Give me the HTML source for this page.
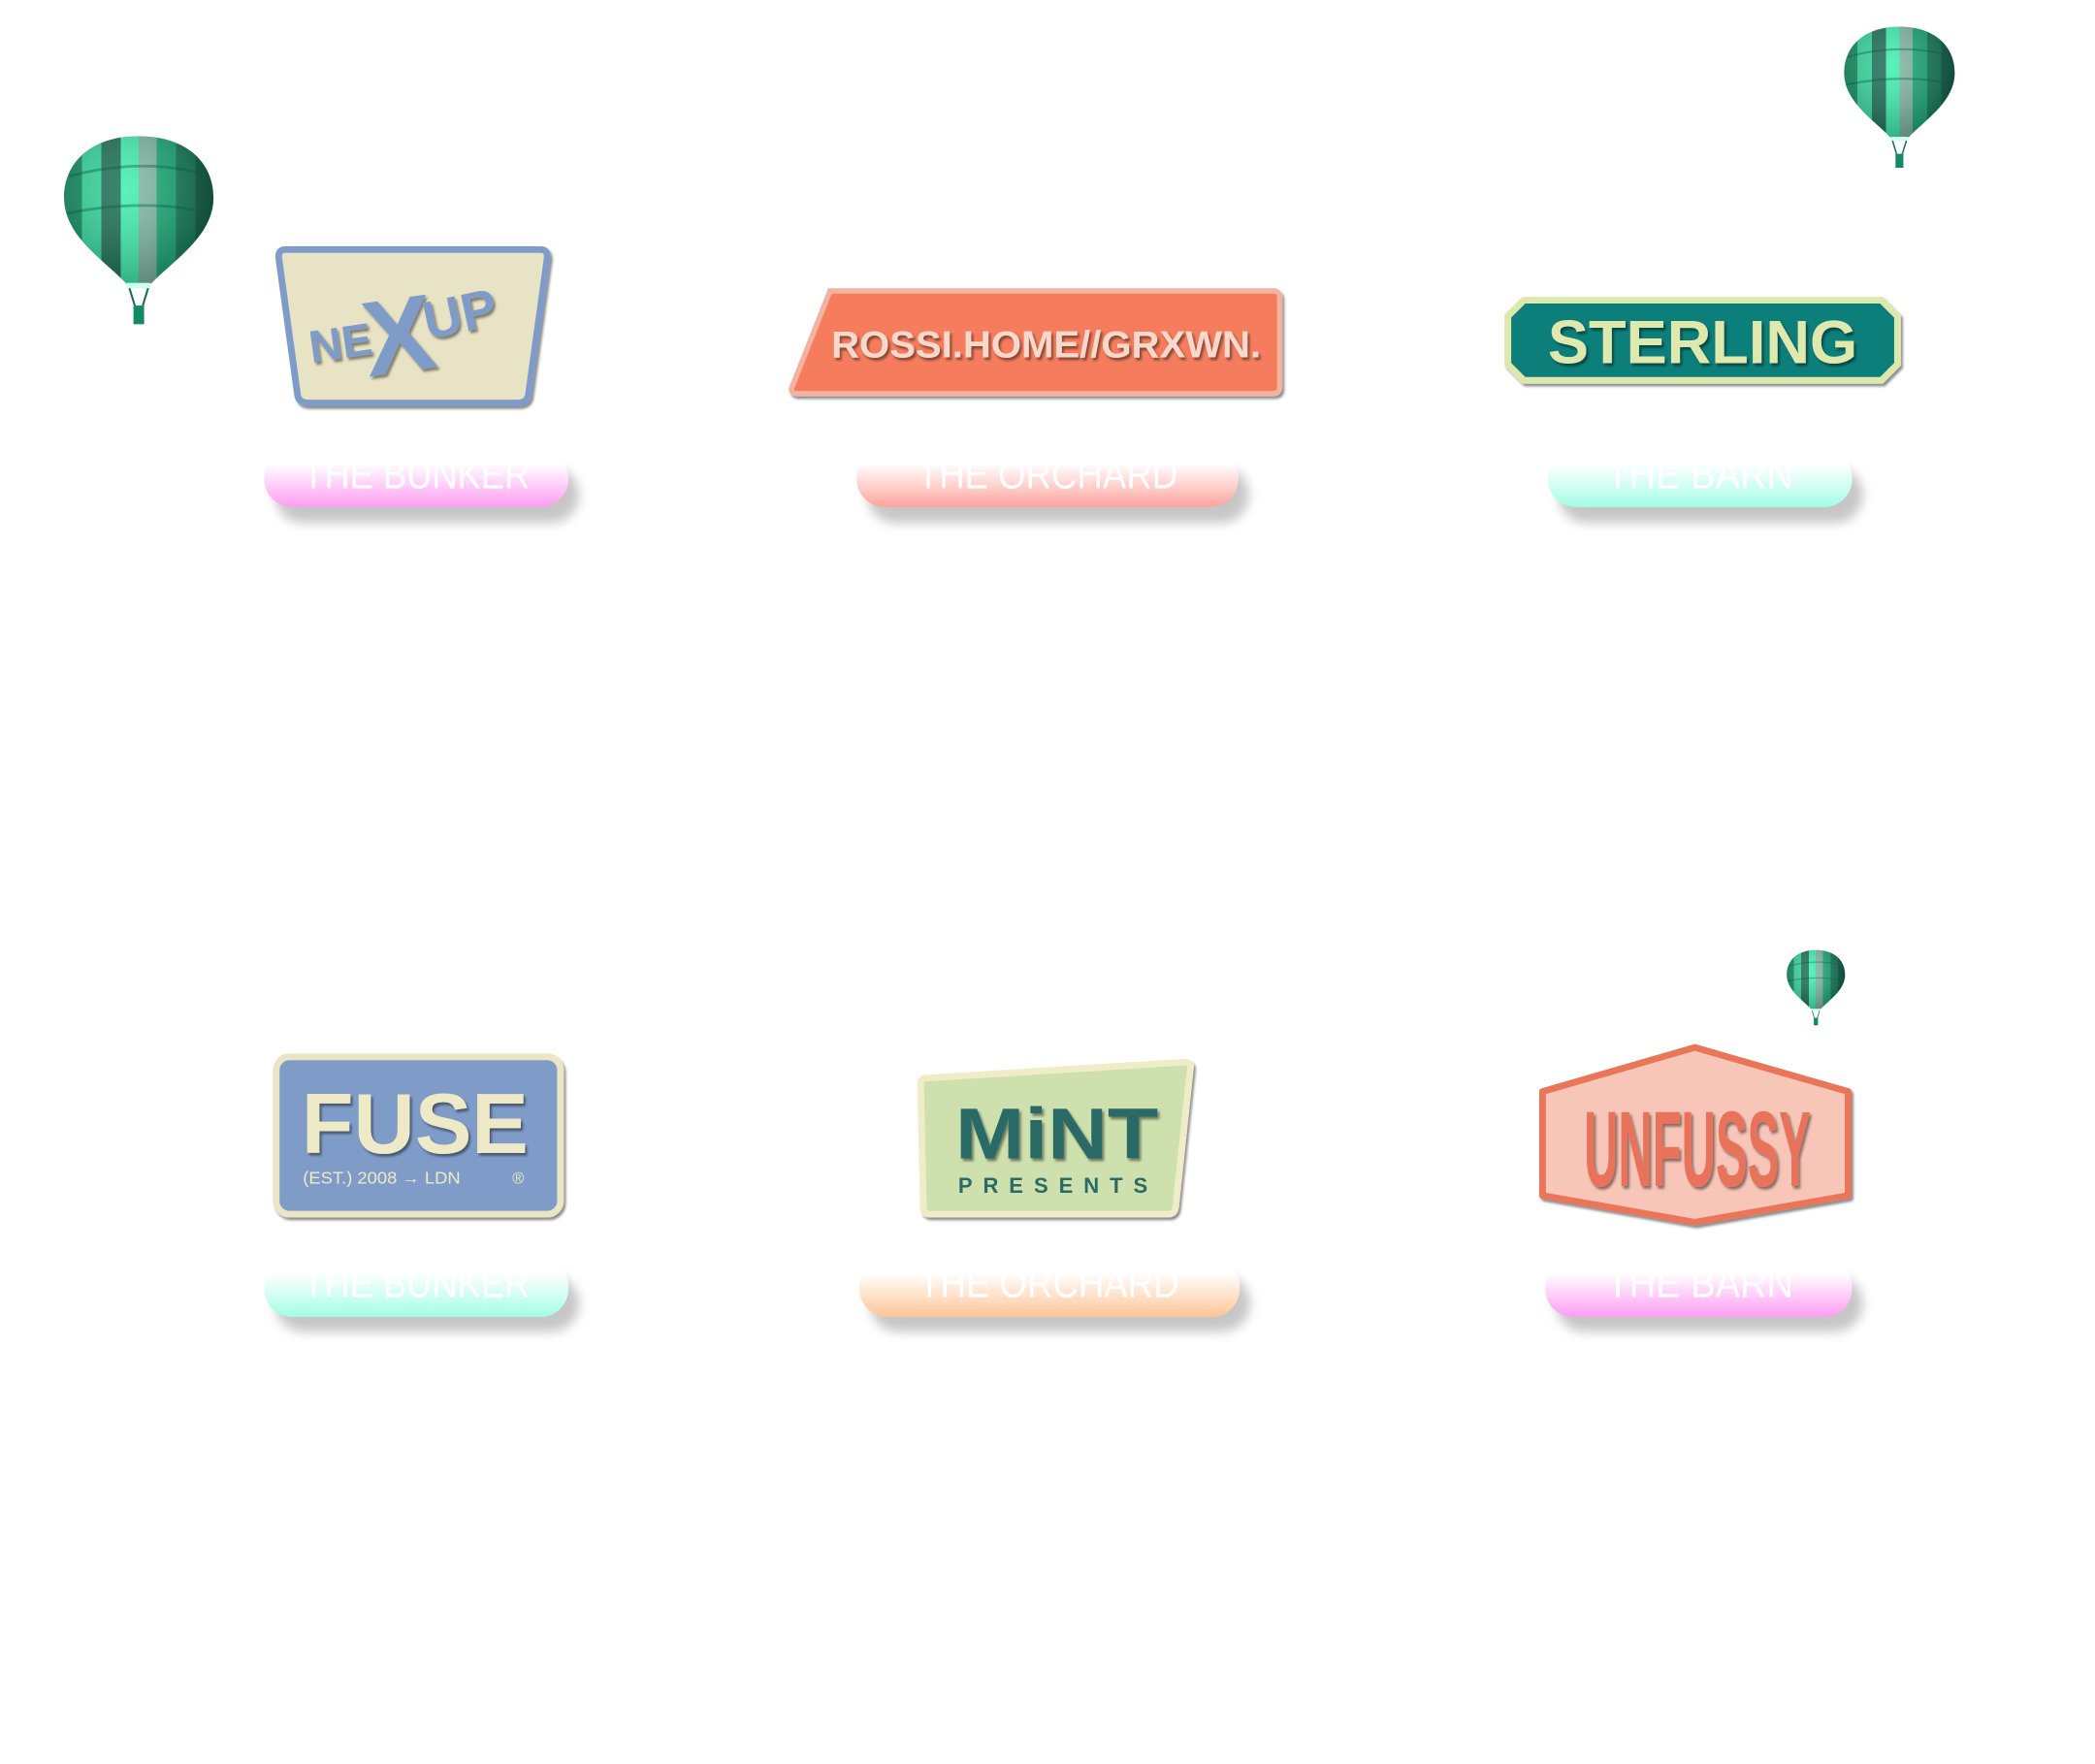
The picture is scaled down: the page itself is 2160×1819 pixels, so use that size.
<!DOCTYPE html>
<html><head><meta charset="utf-8"><style>
html,body{margin:0;padding:0;background:#fff;}
svg{display:block;}
</style></head><body>
<svg width="2160" height="1819" viewBox="0 0 1570 1322" preserveAspectRatio="none" xmlns="http://www.w3.org/2000/svg" font-family="Liberation Sans, sans-serif">
<defs>
  <linearGradient id="stripes" x1="0" x2="1" y1="0" y2="0">
    <stop offset="0" stop-color="#0c8a5e"/><stop offset="0.12" stop-color="#0c8a5e"/>
    <stop offset="0.12" stop-color="#2fd49a"/><stop offset="0.25" stop-color="#2fd49a"/>
    <stop offset="0.25" stop-color="#1a6e55"/><stop offset="0.38" stop-color="#1a6e55"/>
    <stop offset="0.38" stop-color="#3ef0b0"/><stop offset="0.5" stop-color="#3ef0b0"/>
    <stop offset="0.5" stop-color="#7fb8a4"/><stop offset="0.62" stop-color="#7fb8a4"/>
    <stop offset="0.62" stop-color="#17a876"/><stop offset="0.75" stop-color="#17a876"/>
    <stop offset="0.75" stop-color="#0e7a55"/><stop offset="0.88" stop-color="#0e7a55"/>
    <stop offset="0.88" stop-color="#0a5e44"/><stop offset="1" stop-color="#0a5e44"/>
  </linearGradient>
  <radialGradient id="shade" cx="0.4" cy="0.35" r="0.7">
    <stop offset="0" stop-color="#fff" stop-opacity="0.15"/>
    <stop offset="1" stop-color="#000" stop-opacity="0.3"/>
  </radialGradient>
  <g id="balloon">
    <path d="M56 0 C92 0 112 20 112 46 C112 76 80 94 64 112 L48 112 C32 94 0 76 0 46 C0 20 20 0 56 0 Z" fill="url(#stripes)"/>
    <path d="M56 0 C92 0 112 20 112 46 C112 76 80 94 64 112 L48 112 C32 94 0 76 0 46 C0 20 20 0 56 0 Z" fill="url(#shade)"/>
    <path d="M4 30 C40 20 80 20 108 30" stroke="#0a5a40" stroke-width="2" fill="none" opacity="0.4"/>
    <path d="M2 58 C40 50 80 50 110 58" stroke="#0a5a40" stroke-width="2" fill="none" opacity="0.4"/>
    <rect x="47" y="110" width="18" height="4" fill="#cfe"/>
    <path d="M49 114 L53 127 M63 114 L59 127" stroke="#1a6e55" stroke-width="1.5"/>
    <rect x="52" y="127" width="8" height="14" fill="#138a66"/>
  </g>
  <filter id="sh" x="-20%" y="-30%" width="140%" height="180%">
    <feGaussianBlur stdDeviation="4"/>
  </filter>
  <filter id="ds" x="-10%" y="-10%" width="130%" height="140%">
    <feDropShadow dx="1.5" dy="2" stdDeviation="1" flood-color="#000" flood-opacity="0.45"/>
  </filter>
  <linearGradient id="gPink" x1="0" y1="0" x2="0" y2="1"><stop offset="0.25" stop-color="#fff"/><stop offset="1" stop-color="#ff9cf2"/></linearGradient>
  <linearGradient id="gSalmon" x1="0" y1="0" x2="0" y2="1"><stop offset="0.25" stop-color="#fff"/><stop offset="1" stop-color="#ffa39c"/></linearGradient>
  <linearGradient id="gMint" x1="0" y1="0" x2="0" y2="1"><stop offset="0.25" stop-color="#fff"/><stop offset="1" stop-color="#a3fde6"/></linearGradient>
  <linearGradient id="gPeach" x1="0" y1="0" x2="0" y2="1"><stop offset="0.25" stop-color="#fff"/><stop offset="1" stop-color="#ffc596"/></linearGradient>
</defs>

<use href="#balloon" transform="translate(48,102)"/>
<use href="#balloon" transform="translate(1382,20) scale(0.74,0.75)"/>
<use href="#balloon" transform="translate(1339,712) scale(0.39,0.4)"/>

<g font-family="Liberation Sans Narrow, Liberation Sans, sans-serif" font-size="30" fill="#fff" text-anchor="middle">
  <rect x="206" y="350" width="228" height="42" rx="21" fill="#999" opacity="0.55" filter="url(#sh)"/>
  <rect x="198" y="337" width="228" height="43" rx="21" fill="url(#gPink)"/>
  <text x="312" y="366" textLength="170" lengthAdjust="spacingAndGlyphs">THE BUNKER</text>

  <rect x="650" y="350" width="286" height="42" rx="21" fill="#999" opacity="0.55" filter="url(#sh)"/>
  <rect x="642" y="337" width="286" height="43" rx="21" fill="url(#gSalmon)"/>
  <text x="785" y="366" textLength="195" lengthAdjust="spacingAndGlyphs">THE ORCHARD</text>

  <rect x="1168" y="350" width="228" height="42" rx="21" fill="#999" opacity="0.55" filter="url(#sh)"/>
  <rect x="1160" y="337" width="228" height="43" rx="21" fill="url(#gMint)"/>
  <text x="1274" y="366" textLength="140" lengthAdjust="spacingAndGlyphs">THE BARN</text>

  <rect x="206" y="956" width="228" height="42" rx="21" fill="#999" opacity="0.55" filter="url(#sh)"/>
  <rect x="198" y="943" width="228" height="44" rx="21" fill="url(#gMint)"/>
  <text x="312" y="972" textLength="170" lengthAdjust="spacingAndGlyphs">THE BUNKER</text>

  <rect x="652" y="956" width="285" height="42" rx="21" fill="#999" opacity="0.55" filter="url(#sh)"/>
  <rect x="644" y="943" width="285" height="44" rx="21" fill="url(#gPeach)"/>
  <text x="786" y="972" textLength="195" lengthAdjust="spacingAndGlyphs">THE ORCHARD</text>

  <rect x="1166" y="956" width="230" height="42" rx="21" fill="#999" opacity="0.55" filter="url(#sh)"/>
  <rect x="1158" y="943" width="230" height="44" rx="21" fill="url(#gPink)"/>
  <text x="1274" y="972" textLength="140" lengthAdjust="spacingAndGlyphs">THE BARN</text>
</g>

<path d="M214 187 L405 187 Q411 187 410 194 L396 296 Q395 302 388 302 L231 302 Q224 302 223 296 L209 194 Q208 187 214 187 Z" fill="#e8e3c4" stroke="#7f9cc8" stroke-width="5" filter="url(#ds)"/>
<g fill="#7f9cc8" font-weight="bold" filter="url(#ds)">
  <text x="232" y="268" font-size="34" transform="rotate(-8 260 260)">NE</text>
  <text x="272" y="278" font-size="80" transform="rotate(-8 305 250)">X</text>
  <text x="318" y="248" font-size="40" transform="rotate(-12 350 240)">UP</text>
</g>

<path d="M622 218 L954 218 Q959 218 959 223 L959 290 Q959 295 954 295 L598 295 Q591 295 594 289 Z" fill="#f57d5d" stroke="#f3b3a0" stroke-width="4" filter="url(#ds)"/>
<text x="784" y="268" font-size="28" font-weight="bold" fill="#f9d8cc" text-anchor="middle" textLength="322" lengthAdjust="spacingAndGlyphs" filter="url(#ds)">ROSSI.HOME//GRXWN.</text>

<path d="M1142 225 L1410 225 L1422 237 L1422 273 L1410 285 L1142 285 L1130 273 L1130 237 Z" fill="#0b7f7a" stroke="#dde8ad" stroke-width="5" filter="url(#ds)"/>
<text x="1276" y="272" font-size="46" font-weight="bold" fill="#dfe9ae" text-anchor="middle" textLength="232" lengthAdjust="spacingAndGlyphs" filter="url(#ds)">STERLING</text>

<rect x="207" y="792" width="213" height="118" rx="10" fill="#7f9cc8" stroke="#e9e5c5" stroke-width="5" filter="url(#ds)"/>
<text x="226" y="864" font-size="64" font-weight="bold" fill="#eeeac7" textLength="170" lengthAdjust="spacingAndGlyphs" filter="url(#ds)">FUSE</text>
<text x="227" y="887" font-size="13" fill="#eeeac7" textLength="118" lengthAdjust="spacingAndGlyphs">(EST.) 2008 → LDN</text>
<text x="384" y="887" font-size="12" fill="#eeeac7">®</text>

<path d="M694 808 L888 796 Q893 796 892 801 L881 905 Q880 910 875 910 L697 910 Q692 910 692 905 L690 813 Q690 808 694 808 Z" fill="#cde0ad" stroke="#efecc8" stroke-width="5" filter="url(#ds)"/>
<text x="716" y="868" font-size="54" font-weight="bold" fill="#2a6b66" textLength="152" lengthAdjust="spacingAndGlyphs" filter="url(#ds)">MiNT</text>
<text x="718" y="894" font-size="16" font-weight="bold" fill="#2a6b66" textLength="142" lengthAdjust="spacing">PRESENTS</text>

<path d="M1270 785 L1385 818 L1385 896 L1270 916 L1156 896 L1156 818 Z" fill="#f7c6b8" stroke="#ea7558" stroke-width="5" stroke-linejoin="round" filter="url(#ds)"/>
<text x="1272" y="889" font-size="80" font-weight="bold" fill="#e8735a" text-anchor="middle" font-family="Liberation Sans Narrow, Liberation Sans, sans-serif" textLength="170" lengthAdjust="spacingAndGlyphs" filter="url(#ds)">UNFUSSY</text>
</svg>
</body></html>
